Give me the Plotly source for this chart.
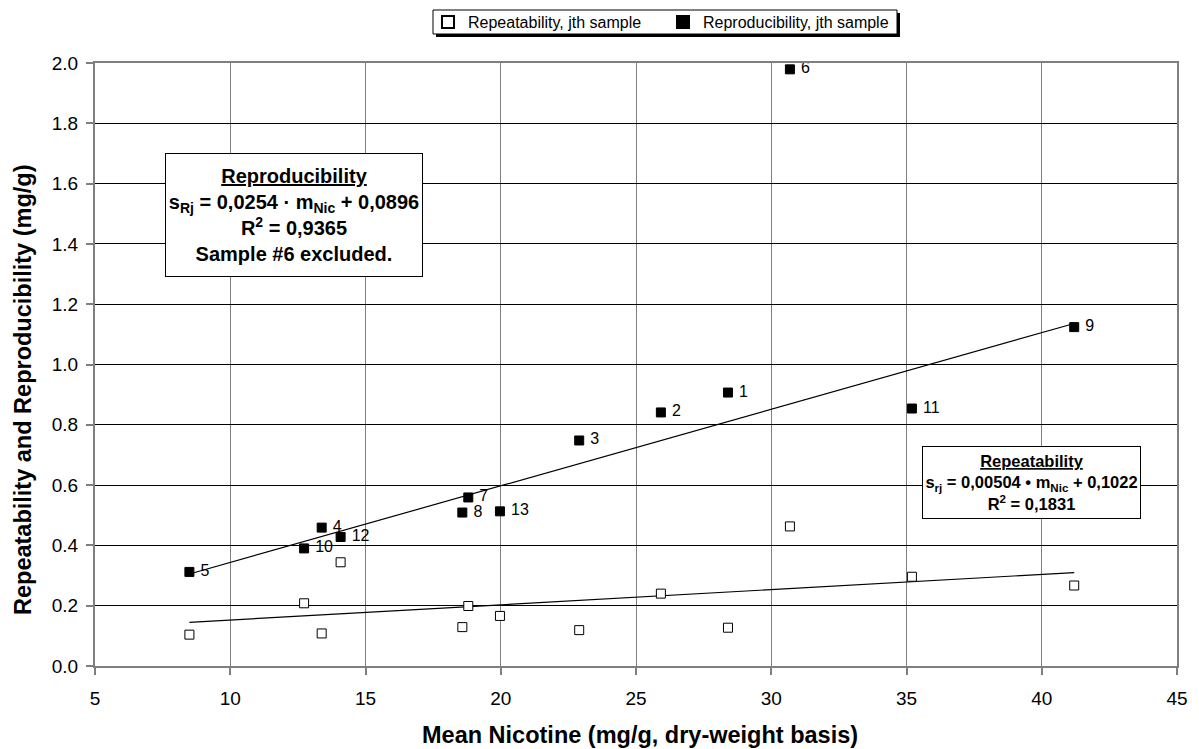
import plotly.graph_objects as go

# ---- data ----
sample_ids = ["1", "2", "3", "4", "5", "6", "7", "8", "9", "10", "11", "12", "13"]
mean_nicotine = [28.40, 25.92, 22.90, 13.38, 8.49, 30.69, 18.80, 18.58, 41.20, 12.73, 35.20, 14.08, 19.97]
reproducibility = [0.907, 0.841, 0.748, 0.459, 0.312, 1.979, 0.559, 0.509, 1.124, 0.390, 0.854, 0.428, 0.513]
repeatability = [0.127, 0.240, 0.119, 0.108, 0.104, 0.463, 0.199, 0.129, 0.267, 0.208, 0.296, 0.344, 0.166]

# regression coefficients (from the chart's annotations)
repro_slope, repro_icpt = 0.0254, 0.0896
repeat_slope, repeat_icpt = 0.00504, 0.1022
excluded_sample = "6"

x_ticks = [5, 10, 15, 20, 25, 30, 35, 40, 45]
y_ticks = [0.0, 0.2, 0.4, 0.6, 0.8, 1.0, 1.2, 1.4, 1.6, 1.8, 2.0]

FONT = "Arial, Liberation Sans, sans-serif"

# layout geometry (pixels); the page body adds an 8px margin around the figure
OFF = 8
W, H = 1199 - OFF, 749 - OFF
ML, MR, MT, MB = 95 - OFF, 22, 63 - OFF, 83
PW, PH = W - ML - MR, H - MT - MB


def px_x(p):  # page pixel -> paper fraction
    return (p - OFF - ML) / PW


def px_y(p):
    return (H - MB - (p - OFF)) / PH


fig = go.Figure()

# trend lines
x_fit = [x for x, s in zip(mean_nicotine, sample_ids) if s != excluded_sample]
x_lo, x_hi = min(x_fit), max(x_fit)
fig.add_trace(go.Scatter(
    x=[x_lo, x_hi], y=[repro_slope * x_lo + repro_icpt, repro_slope * x_hi + repro_icpt],
    mode="lines", line=dict(color="black", width=1.2), showlegend=False, hoverinfo="skip"))
x_lo2, x_hi2 = min(mean_nicotine), max(mean_nicotine)
fig.add_trace(go.Scatter(
    x=[x_lo2, x_hi2], y=[repeat_slope * x_lo2 + repeat_icpt, repeat_slope * x_hi2 + repeat_icpt],
    mode="lines", line=dict(color="black", width=1.2), showlegend=False, hoverinfo="skip"))

fig.add_trace(go.Scatter(
    x=mean_nicotine, y=repeatability, mode="markers",
    name="Repeatability, jth sample",
    marker=dict(symbol="square", size=9, color="white", line=dict(color="black", width=1))))
fig.add_trace(go.Scatter(
    x=mean_nicotine, y=reproducibility, mode="markers+text",
    name="Reproducibility, jth sample",
    text=[" " + s for s in sample_ids], textposition="middle right",
    textfont=dict(family=FONT, size=16, color="black"),
    marker=dict(symbol="square", size=9, color="black", line=dict(color="black", width=1))))

# legend frame with drop shadow (drawn as shapes, legend itself transparent)
fig.add_shape(type="rect", xref="paper", yref="paper",
              x0=px_x(436), x1=px_x(900), y0=px_y(37), y1=px_y(13),
              fillcolor="black", line=dict(width=0), layer="above")
fig.add_shape(type="rect", xref="paper", yref="paper",
              x0=px_x(433), x1=px_x(897), y0=px_y(34), y1=px_y(10),
              fillcolor="white", line=dict(color="black", width=1), layer="above")

fig.update_layout(
    width=W, height=H,
    margin=dict(l=ML, r=MR, t=MT, b=MB, autoexpand=False),
    paper_bgcolor="white", plot_bgcolor="white",
    font=dict(family=FONT, color="black"),
    showlegend=True,
    legend=dict(orientation="h", x=px_x(428), xanchor="left", y=px_y(22), yanchor="middle",
                bgcolor="rgba(0,0,0,0)", borderwidth=0,
                font=dict(family=FONT, size=16), itemsizing="constant",
                entrywidth=190, entrywidthmode="pixels"),
)

fig.update_xaxes(
    range=[5, 45], tickvals=x_ticks, ticktext=[str(v) for v in x_ticks],
    showgrid=True, gridcolor="#7f7f7f", gridwidth=1.3,
    showline=True, linecolor="#7f7f7f", linewidth=2, mirror=True,
    ticks="outside", ticklen=7, tickcolor="#7f7f7f", tickwidth=1.5,
    ticklabelstandoff=7,
    tickfont=dict(family=FONT, size=19), zeroline=False)
fig.update_yaxes(
    range=[0, 2.0], tickvals=y_ticks, ticktext=[f"{v:.1f}" for v in y_ticks],
    showgrid=True, gridcolor="black", gridwidth=1,
    showline=True, linecolor="#7f7f7f", linewidth=2, mirror=True,
    ticks="outside", ticklen=7, tickcolor="#7f7f7f", tickwidth=1.5,
    ticklabelstandoff=4,
    tickfont=dict(family=FONT, size=19), zeroline=False)

# axis titles
fig.add_annotation(xref="paper", yref="paper", x=px_x(640), y=px_y(735),
                   xanchor="center", yanchor="middle", showarrow=False,
                   text="<b>Mean Nicotine (mg/g, dry-weight basis)</b>",
                   font=dict(family=FONT, size=23.5, color="black"))
fig.add_annotation(xref="paper", yref="paper", x=px_x(23), y=px_y(390),
                   xanchor="center", yanchor="middle", showarrow=False, textangle=-90,
                   text="<b>Repeatability and Reproducibility (mg/g)</b>",
                   font=dict(family=FONT, size=23.5, color="black"))

fig.add_annotation(
    xref="paper", yref="paper", x=px_x(294), y=px_y(215), xanchor="center", yanchor="middle",
    showarrow=False, align="center",
    text=("<b><u>Reproducibility</u></b><br>"
          "<b>s<sub>Rj</sub> = 0,0254 · m<sub>Nic</sub> + 0,0896</b><br>"
          "<b>R<sup>2</sup> = 0,9365</b><br>"
          "<b>Sample #6 excluded.</b>"),
    font=dict(family=FONT, size=20, color="black"),
    bgcolor="white", bordercolor="black", borderwidth=1, borderpad=3,
    width=250, height=116)

fig.add_annotation(
    xref="paper", yref="paper", x=px_x(1031), y=px_y(483), xanchor="center", yanchor="middle",
    showarrow=False, align="center",
    text=("<b><u>Repeatability</u></b><br>"
          "<b>s<sub>rj</sub> = 0,00504 • m<sub>Nic</sub> + 0,1022</b><br>"
          "<b>R<sup>2</sup> = 0,1831</b>"),
    font=dict(family=FONT, size=16.5, color="black"),
    bgcolor="white", bordercolor="black", borderwidth=1, borderpad=2,
    width=213, height=67)

fig.write_html("out.html")
